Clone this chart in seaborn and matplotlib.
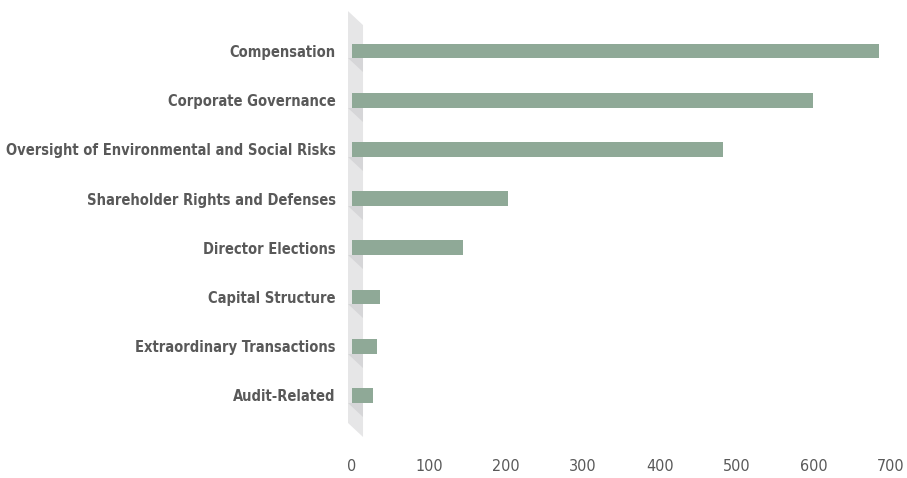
import matplotlib
matplotlib.use("Agg")
import matplotlib.pyplot as plt
from matplotlib.patches import Polygon
import pandas as pd
import seaborn as sns

categories = [
    "Compensation",
    "Corporate Governance",
    "Oversight of Environmental and Social Risks",
    "Shareholder Rights and Defenses",
    "Director Elections",
    "Capital Structure",
    "Extraordinary Transactions",
    "Audit-Related",
]
counts = [684, 599, 482, 203, 144, 36, 32, 27]
xticks = [0, 100, 200, 300, 400, 500, 600, 700]

df = pd.DataFrame({"category": categories, "count": counts})

sns.set_theme(style="white")
plt.rcParams["font.family"] = ["DejaVu Sans"]

text_color = "#595959"
bar_color = "#8fa997"
wall_color = "#e6e6e7"
shadow_color = "#d6d6d8"

fig = plt.figure(figsize=(9.07, 4.78), dpi=100)
ax = fig.add_axes([0.3837, 0.0858, 0.5987, 0.891])

# 3d-ish back wall on the left
depth = 0.285
wall_x0, wall_x1 = -5, 14.5
top, bottom = -0.81, 7.56
ax.add_patch(Polygon([(wall_x0, top), (wall_x1, top + depth), (wall_x1, bottom + depth),
                      (wall_x0, bottom)], closed=True, facecolor=wall_color,
                     edgecolor="none", zorder=0))
for i in range(len(categories)):
    y0 = i + 0.15
    ax.add_patch(Polygon([(wall_x0, y0), (wall_x1, y0), (wall_x1, y0 + depth)],
                         closed=True, facecolor=shadow_color, edgecolor="none", zorder=1))

sns.barplot(data=df, x="count", y="category", orient="h", color=bar_color,
            saturation=1, width=0.3, linewidth=0, ax=ax, zorder=2)

ax.set_xlim(-5, 700)
ax.set_ylim(bottom + depth, top)
ax.set_xticks(xticks)
ax.set_xticklabels([str(t) for t in xticks], fontsize=11.5, color=text_color,
                   fontstretch="condensed")
ax.set_yticks(range(len(categories)))
ax.set_yticklabels(categories, fontsize=10.5, fontweight="bold", color=text_color,
                   fontstretch="condensed")
ax.tick_params(axis="x", length=0, pad=16)
ax.tick_params(axis="y", length=0, pad=9)
ax.set_xlabel("")
ax.set_ylabel("")
for s in ax.spines.values():
    s.set_visible(False)

fig.savefig("out.png", dpi=100)
